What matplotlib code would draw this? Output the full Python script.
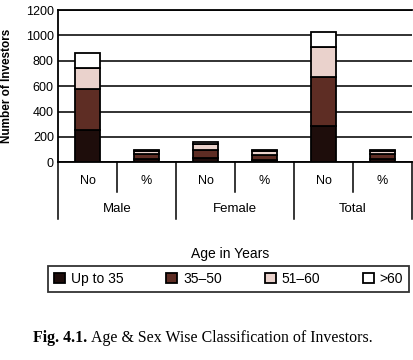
import matplotlib
matplotlib.use("Agg")
import matplotlib.pyplot as plt
import numpy as np

plt.rcParams['font.family'] = ['Liberation Sans', 'DejaVu Sans']

groups = ["Male", "Female", "Total"]
sub_labels = ["No", "%"]
age_groups = ["Up to 35", "35–50", "51–60", ">60"]

# values per bar: Male No, Male %, Female No, Female %, Total No, Total %
up_to_35 = [255, 29.5, 30, 18, 288, 28]
b35_50 = [320, 37, 70, 43, 386, 38]
b51_60 = [165, 19, 45, 28, 231, 22]
over_60 = [120, 14.5, 17, 11, 119, 12]

series = [up_to_35, b35_50, b51_60, over_60]
colors = ["#1e0d0b", "#5e2d24", "#ead2cc", "#ffffff"]

yticks = [0, 200, 400, 600, 800, 1000, 1200]

fig = plt.figure(figsize=(4.14, 3.6), dpi=100)
ax = fig.add_axes([58/414, 1-162.3/360, 354/414, 152.3/360])

x = np.arange(len(up_to_35))
bottom = np.zeros(len(x))
handles = []
for vals, col, lab in zip(series, colors, age_groups):
    b = ax.bar(x, vals, width=0.42, bottom=bottom, color=col, edgecolor="black",
               linewidth=1.3, label=lab, zorder=3)
    handles.append(b)
    bottom += np.array(vals)

ax.set_xlim(-0.5, 5.5)
ax.set_ylim(0, 1200)
ax.set_yticks(yticks)
ax.set_yticklabels([str(t) for t in yticks], fontsize=9)
ax.tick_params(axis='y', length=0, pad=3)
ax.set_xticks([])
ax.yaxis.grid(True, color="#222222", linewidth=1.3, zorder=0)
ax.spines["right"].set_visible(False)
for s in ["left", "top", "bottom"]:
    ax.spines[s].set_linewidth(1.3)

ax.set_ylabel("Number of Investors", fontsize=8.5, fontweight="bold", labelpad=9)

# category table below the axis
tr = ax.get_xaxis_transform()
y_mid = -0.195
y_bot = -0.373
for xv in [-0.5, 1.5, 3.5, 5.5]:
    ax.plot([xv, xv], [0, y_bot], color="black", lw=1.1, transform=tr, clip_on=False)
for xv in [0.5, 2.5, 4.5]:
    ax.plot([xv, xv], [0, y_mid], color="black", lw=1.1, transform=tr, clip_on=False)
for i in range(len(x)):
    ax.text(x[i], -0.121, sub_labels[i % 2], transform=tr, ha="center", va="center", fontsize=9)
for g, name in enumerate(groups):
    ax.text(2*g + 0.5, -0.307, name, transform=tr, ha="center", va="center", fontsize=9.5)

fig.text(230/414, 1-254/360, "Age in Years", ha="center", va="center", fontsize=10)

leg = fig.legend(handles=handles, labels=age_groups, loc="center", ncol=4,
                 bbox_to_anchor=(48/414, 1-294/360, 361/414, 30/360), mode="expand",
                 fontsize=10, frameon=True, fancybox=False, handlelength=0.8,
                 handleheight=0.8, handletextpad=0.4, borderaxespad=0, borderpad=0.45)
leg.get_frame().set_edgecolor("black")
leg.get_frame().set_linewidth(1.3)

serif = ["Liberation Serif", "DejaVu Serif"]
t1 = fig.text(33/414, 1-338/360, "Fig. 4.1.", ha="left", va="center", fontsize=11.4,
              fontweight="bold", family=serif)
renderer = fig.canvas.get_renderer()
bb = t1.get_window_extent(renderer)
fig.text((bb.x1 + 4)/414, 1-338/360, "Age & Sex Wise Classification of Investors.",
         ha="left", va="center", fontsize=11.4, family=serif)

fig.savefig("out.png", dpi=100)
